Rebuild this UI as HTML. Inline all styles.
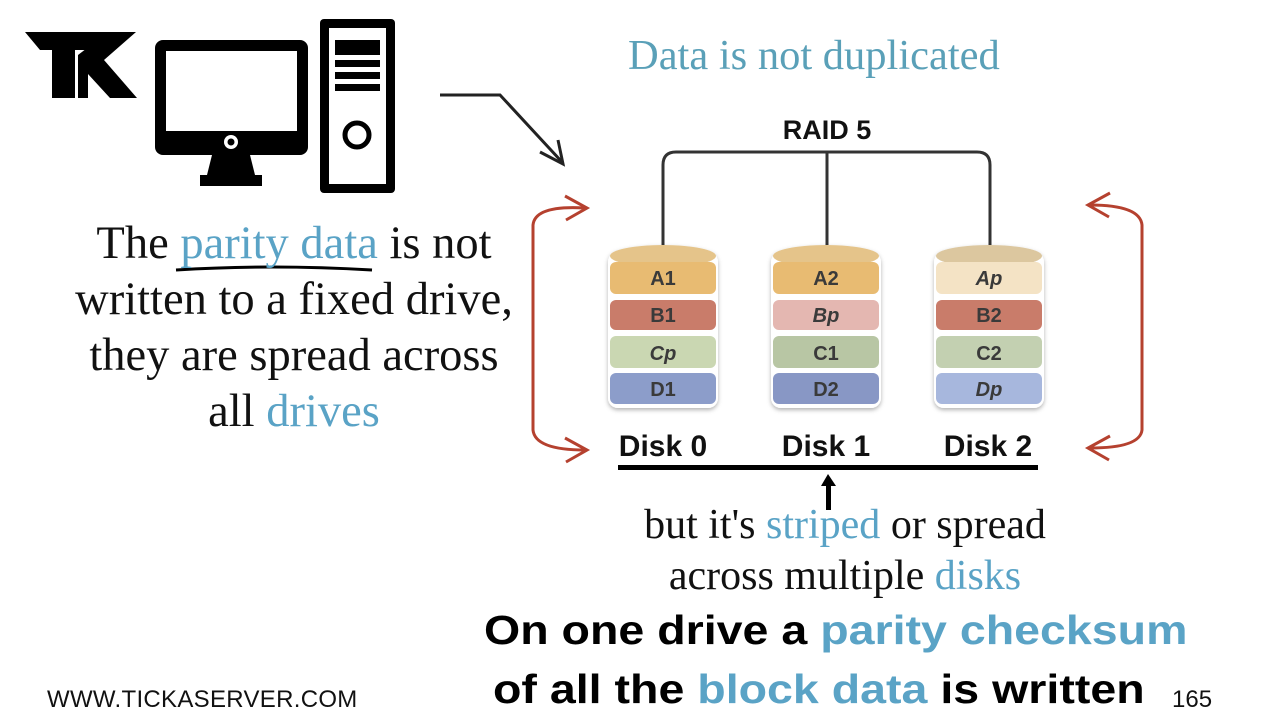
<!DOCTYPE html>
<html><head><style>
body{margin:0;width:1280px;height:720px;background:#fff;position:relative;overflow:hidden;font-family:"Liberation Serif",serif}
.t{position:absolute;white-space:nowrap}
.b{color:#5aa3c6}
.serif{font-family:"Liberation Serif",serif;font-size:46.5px;color:#111;text-align:center}
.bold{font-family:"Liberation Sans",sans-serif;font-weight:bold;transform-origin:0 0;transform:scaleX(1.135)}
</style></head><body>
<svg width="1280" height="720" style="position:absolute;left:0;top:0">
<polygon points="25,32 115,32 98,50 75,50 75,98 52,98 52,50 40,50" fill="#000"/>
<polygon points="78,98 78,55 108,32 136,32 104,60 137,98 110,98 88,74 88,98" fill="#000"/>
<rect x="155" y="40" width="153" height="115" rx="8" fill="#000"/>
<rect x="166" y="51" width="131" height="80" fill="#fff"/>
<circle cx="231" cy="142" r="7" fill="#fff"/><circle cx="231" cy="142" r="3.5" fill="#000"/>
<polygon points="212,155 250,155 255,175 262,175 262,186 200,186 200,175 207,175" fill="#000"/>
<rect x="320" y="19" width="75" height="174" rx="4" fill="#000"/>
<rect x="329" y="28" width="57" height="156" fill="#fff"/>
<rect x="335" y="40" width="45" height="15" fill="#000"/>
<rect x="335" y="60" width="45" height="7" fill="#000"/>
<rect x="335" y="72" width="45" height="7" fill="#000"/>
<rect x="335" y="84" width="45" height="7" fill="#000"/>
<circle cx="357" cy="135" r="12" fill="none" stroke="#000" stroke-width="5"/>
<path d="M440,95 L500,95 L562,162" fill="none" stroke="#222" stroke-width="3"/>
<path d="M540,152 L563,164 L558,140" fill="none" stroke="#222" stroke-width="3"/>
<path d="M663,245 V165 Q663,152 676,152 H977 Q990,152 990,165 V245 M827,152 V245" fill="none" stroke="#333" stroke-width="3"/>
<path d="M585,208 Q535,205 533,225 V430 Q535,450 585,450" fill="none" stroke="#b5412f" stroke-width="3"/>
<path d="M565,196 L587,208 L566,220 M565,438 L587,450 L566,462" fill="none" stroke="#b5412f" stroke-width="3"/>
<path d="M1090,205 Q1140,205 1142,225 V430 Q1140,448 1090,448" fill="none" stroke="#b5412f" stroke-width="3"/>
<path d="M1110,193 L1088,205 L1109,217 M1110,436 L1088,448 L1109,460" fill="none" stroke="#b5412f" stroke-width="3"/>
<rect x="618" y="465" width="420" height="5" fill="#000"/>
<path d="M828,474 L821,486 H826 V510 H831 V486 H836 Z" fill="#000"/>
<path d="M176,270 Q270,264 372,270" stroke="#000" stroke-width="3" fill="none"/>
</svg>
<svg width="1280" height="720" style="position:absolute;left:0;top:0" font-family="Liberation Sans,sans-serif" font-weight="bold" font-size="20" text-anchor="middle" fill="#3a3a3a">
<defs><filter id="s"><feDropShadow dx="0" dy="2" stdDeviation="2" flood-opacity="0.3"/></filter></defs>
<g filter="url(#s)">
<rect x="608" y="252" width="110" height="156" rx="10" fill="#fff"/>
<ellipse cx="663" cy="256" rx="53" ry="11" fill="#e5c48a"/>
<rect x="610" y="262" width="106" height="32" rx="6" fill="#e8bb72"/>
<rect x="610" y="300" width="106" height="30" rx="6" fill="#c97b6b"/>
<rect x="610" y="336" width="106" height="32" rx="6" fill="#cad7b2"/>
<rect x="610" y="373" width="106" height="31" rx="6" fill="#8c9dca"/>
<rect x="771" y="252" width="110" height="156" rx="10" fill="#fff"/>
<ellipse cx="826" cy="256" rx="53" ry="11" fill="#e5c48a"/>
<rect x="773" y="262" width="106" height="32" rx="6" fill="#e8bb72"/>
<rect x="773" y="300" width="106" height="30" rx="6" fill="#e4b7b1"/>
<rect x="773" y="336" width="106" height="32" rx="6" fill="#b8c6a4"/>
<rect x="773" y="373" width="106" height="31" rx="6" fill="#8897c5"/>
<rect x="934" y="252" width="110" height="156" rx="10" fill="#fff"/>
<ellipse cx="989" cy="256" rx="53" ry="11" fill="#dcc79f"/>
<rect x="936" y="262" width="106" height="32" rx="6" fill="#f4e3c5"/>
<rect x="936" y="300" width="106" height="30" rx="6" fill="#c97b6b"/>
<rect x="936" y="336" width="106" height="32" rx="6" fill="#c3d0b1"/>
<rect x="936" y="373" width="106" height="31" rx="6" fill="#a7b7dd"/>
</g>
<text x="663" y="285">A1</text><text x="663" y="322">B1</text><text x="663" y="360" font-style="italic">Cp</text><text x="663" y="396">D1</text>
<text x="826" y="285">A2</text><text x="826" y="322" font-style="italic">Bp</text><text x="826" y="360">C1</text><text x="826" y="396">D2</text>
<text x="989" y="285" font-style="italic">Ap</text><text x="989" y="322">B2</text><text x="989" y="360">C2</text><text x="989" y="396" font-style="italic">Dp</text>
<g fill="#111" font-size="30"><text x="663" y="456">Disk 0</text><text x="826" y="456">Disk 1</text><text x="988" y="456">Disk 2</text>
<text x="827" y="139" font-size="27">RAID 5</text></g>
</svg>
<div class="t" style="left:628px;top:31px;font-size:42.5px;color:#5aa0b8">Data is not duplicated</div>
<div class="t serif" style="left:44px;width:500px;top:216px;line-height:56px">The <span class="b">parity data</span> is not<br>written to a fixed drive,<br>they are spread across<br>all <span class="b">drives</span></div>
<div class="t serif" style="left:595px;width:500px;top:500px;line-height:51px;font-size:42px">but it's <span class="b">striped</span> or spread<br>across multiple <span class="b">disks</span></div>
<div class="t bold" style="left:484px;top:607px;font-size:41px;color:#000">On one drive a <span class="b">parity checksum</span></div>
<div class="t bold" style="left:493px;top:666px;font-size:41px;color:#000">of all the <span class="b">block data</span> is written</div>
<div class="t" style="left:1172px;top:686px;font-family:'Liberation Sans',sans-serif;font-size:24px;color:#111">165</div>
<div class="t" style="left:47px;top:686px;font-family:'Liberation Sans',sans-serif;font-size:24px;color:#111;letter-spacing:0.3px">WWW.TICKASERVER.COM</div>
</body></html>
